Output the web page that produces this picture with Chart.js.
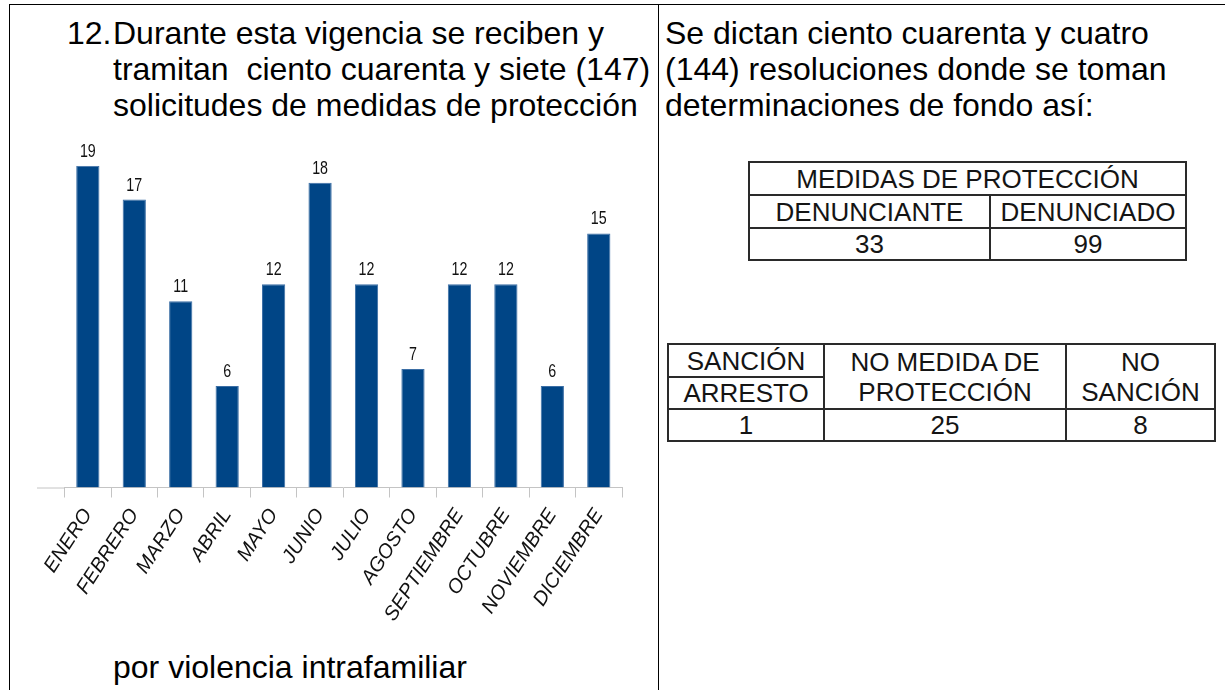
<!DOCTYPE html>
<html lang="es">
<head>
<meta charset="utf-8">
<title>Solicitudes de medidas de protección</title>
<script src="https://cdn.jsdelivr.net/npm/chart.js@4.4.1/dist/chart.umd.min.js"></script>
<style>
  html, body { margin: 0; padding: 0; background: #fff; }
  body {
    width: 1225px; height: 690px; position: relative; overflow: hidden;
    font-family: 'Liberation Sans', Arial, sans-serif; color: #000;
  }
  .rule { position: absolute; background: #000; }
  .txt { position: absolute; font-size: 32px; line-height: 36px; white-space: pre; }
  table.grid {
    position: absolute; border-collapse: collapse; table-layout: fixed;
    font-size: 26px; color: #141414;
  }
  table.grid td {
    border: 2px solid #2a2a2a; padding: 0; text-align: center;
    line-height: 30px; white-space: nowrap;
  }
  #chartBox { position: absolute; left: 10px; top: 130px; width: 648px; height: 510px; }
</style>
</head>
<body>

<div class="rule" style="left:9px; top:4px; width:1216px; height:1px;"></div>
<div class="rule" style="left:9px; top:4px; width:1px; height:686px;"></div>
<div class="rule" style="left:658px; top:4px; width:1px; height:686px;"></div>

<div class="txt" style="left:67px; top:15px;">12.</div>
<div class="txt" style="left:113px; top:15px;">Durante esta vigencia se reciben y
tramitan  ciento cuarenta y siete (147)
solicitudes de medidas de protección</div>

<div class="txt" style="left:665px; top:15px;">Se dictan ciento cuarenta y cuatro
(144) resoluciones donde se toman
determinaciones de fondo así:</div>

<div class="txt" style="left:113px; top:649px;">por violencia intrafamiliar</div>

<table class="grid" style="left:748px; top:161px; width:437px;">
  <colgroup><col style="width:241px"><col style="width:196px"></colgroup>
  <tr><td colspan="2" style="height:31px;">MEDIDAS DE PROTECCIÓN</td></tr>
  <tr><td style="height:31px;">DENUNCIANTE</td><td>DENUNCIADO</td></tr>
  <tr><td style="height:30px;">33</td><td>99</td></tr>
</table>

<table class="grid" style="left:667px; top:343px; width:547px;">
  <colgroup><col style="width:156px"><col style="width:242px"><col style="width:149px"></colgroup>
  <tr>
    <td style="height:31px;">SANCIÓN</td>
    <td rowspan="2">NO MEDIDA DE<br>PROTECCIÓN</td>
    <td rowspan="2">NO<br>SANCIÓN</td>
  </tr>
  <tr><td style="height:29px;">ARRESTO</td></tr>
  <tr><td style="height:30px;">1</td><td>25</td><td>8</td></tr>
</table>

<div id="chartBox"><canvas id="chartSolicitudes" width="648" height="510"></canvas></div>

<script>
// Solicitudes recibidas por mes
var meses = ['ENERO', 'FEBRERO', 'MARZO', 'ABRIL', 'MAYO', 'JUNIO',
             'JULIO', 'AGOSTO', 'SEPTIEMBRE', 'OCTUBRE', 'NOVIEMBRE', 'DICIEMBRE'];
var solicitudes = [19, 17, 11, 6, 12, 18, 12, 7, 12, 12, 6, 15];
var ejeMin = 0;
var ejeMax = 19;

(function () {
    var axisGray = '#c4c4c4';

    // Value written above every bar, in a condensed face
    var etiquetas = {
        id: 'etiquetas',
        afterDatasetsDraw: function (chart) {
            var ctx = chart.ctx;
            var meta = chart.getDatasetMeta(0);
            ctx.save();
            ctx.fillStyle = '#111';
            ctx.font = "19px 'Liberation Sans', Arial, sans-serif";
            ctx.textAlign = 'center';
            ctx.textBaseline = 'alphabetic';
            meta.data.forEach(function (bar, i) {
                ctx.save();
                ctx.translate(bar.x, bar.y - 9);
                ctx.scale(0.75, 1);
                ctx.fillText(String(solicitudes[i]), 0, 0);
                ctx.restore();
            });
            ctx.restore();
        }
    };

    // The category axis line runs a little past the first tick on the left
    var ejeIzq = {
        id: 'ejeIzq',
        afterDraw: function (chart) {
            var ctx = chart.ctx;
            var area = chart.chartArea;
            ctx.save();
            ctx.strokeStyle = axisGray;
            ctx.lineWidth = 1;
            ctx.beginPath();
            ctx.moveTo(27, area.bottom + 0.5);
            ctx.lineTo(area.left, area.bottom + 0.5);
            ctx.stroke();
            ctx.restore();
        }
    };

    var canvas = document.getElementById('chartSolicitudes');
    new Chart(canvas, {
        type: 'bar',
        data: {
            labels: meses,
            datasets: [{
                data: solicitudes,
                backgroundColor: '#004586',
                borderColor: '#3b6ea5',
                borderWidth: 1,
                barPercentage: 0.5,
                categoryPercentage: 1
            }]
        },
        options: {
            responsive: false,
            animation: false,
            layout: { padding: { left: 54.6, right: 36, top: 35.7, bottom: 0 } },
            plugins: { legend: { display: false }, tooltip: { enabled: false } },
            scales: {
                y: { display: false, min: ejeMin, max: ejeMax },
                x: {
                    grid: { drawOnChartArea: false, color: axisGray, tickLength: 10, offset: true },
                    border: { color: axisGray },
                    ticks: {
                        minRotation: 57,
                        maxRotation: 57,
                        color: '#111',
                        padding: 7,
                        font: { family: "'Liberation Sans', Arial, sans-serif", size: 20, style: 'italic' }
                    },
                    afterFit: function (scale) { scale.height = 152.5; }
                }
            }
        },
        plugins: [etiquetas, ejeIzq]
    });
})();
</script>
</body>
</html>
